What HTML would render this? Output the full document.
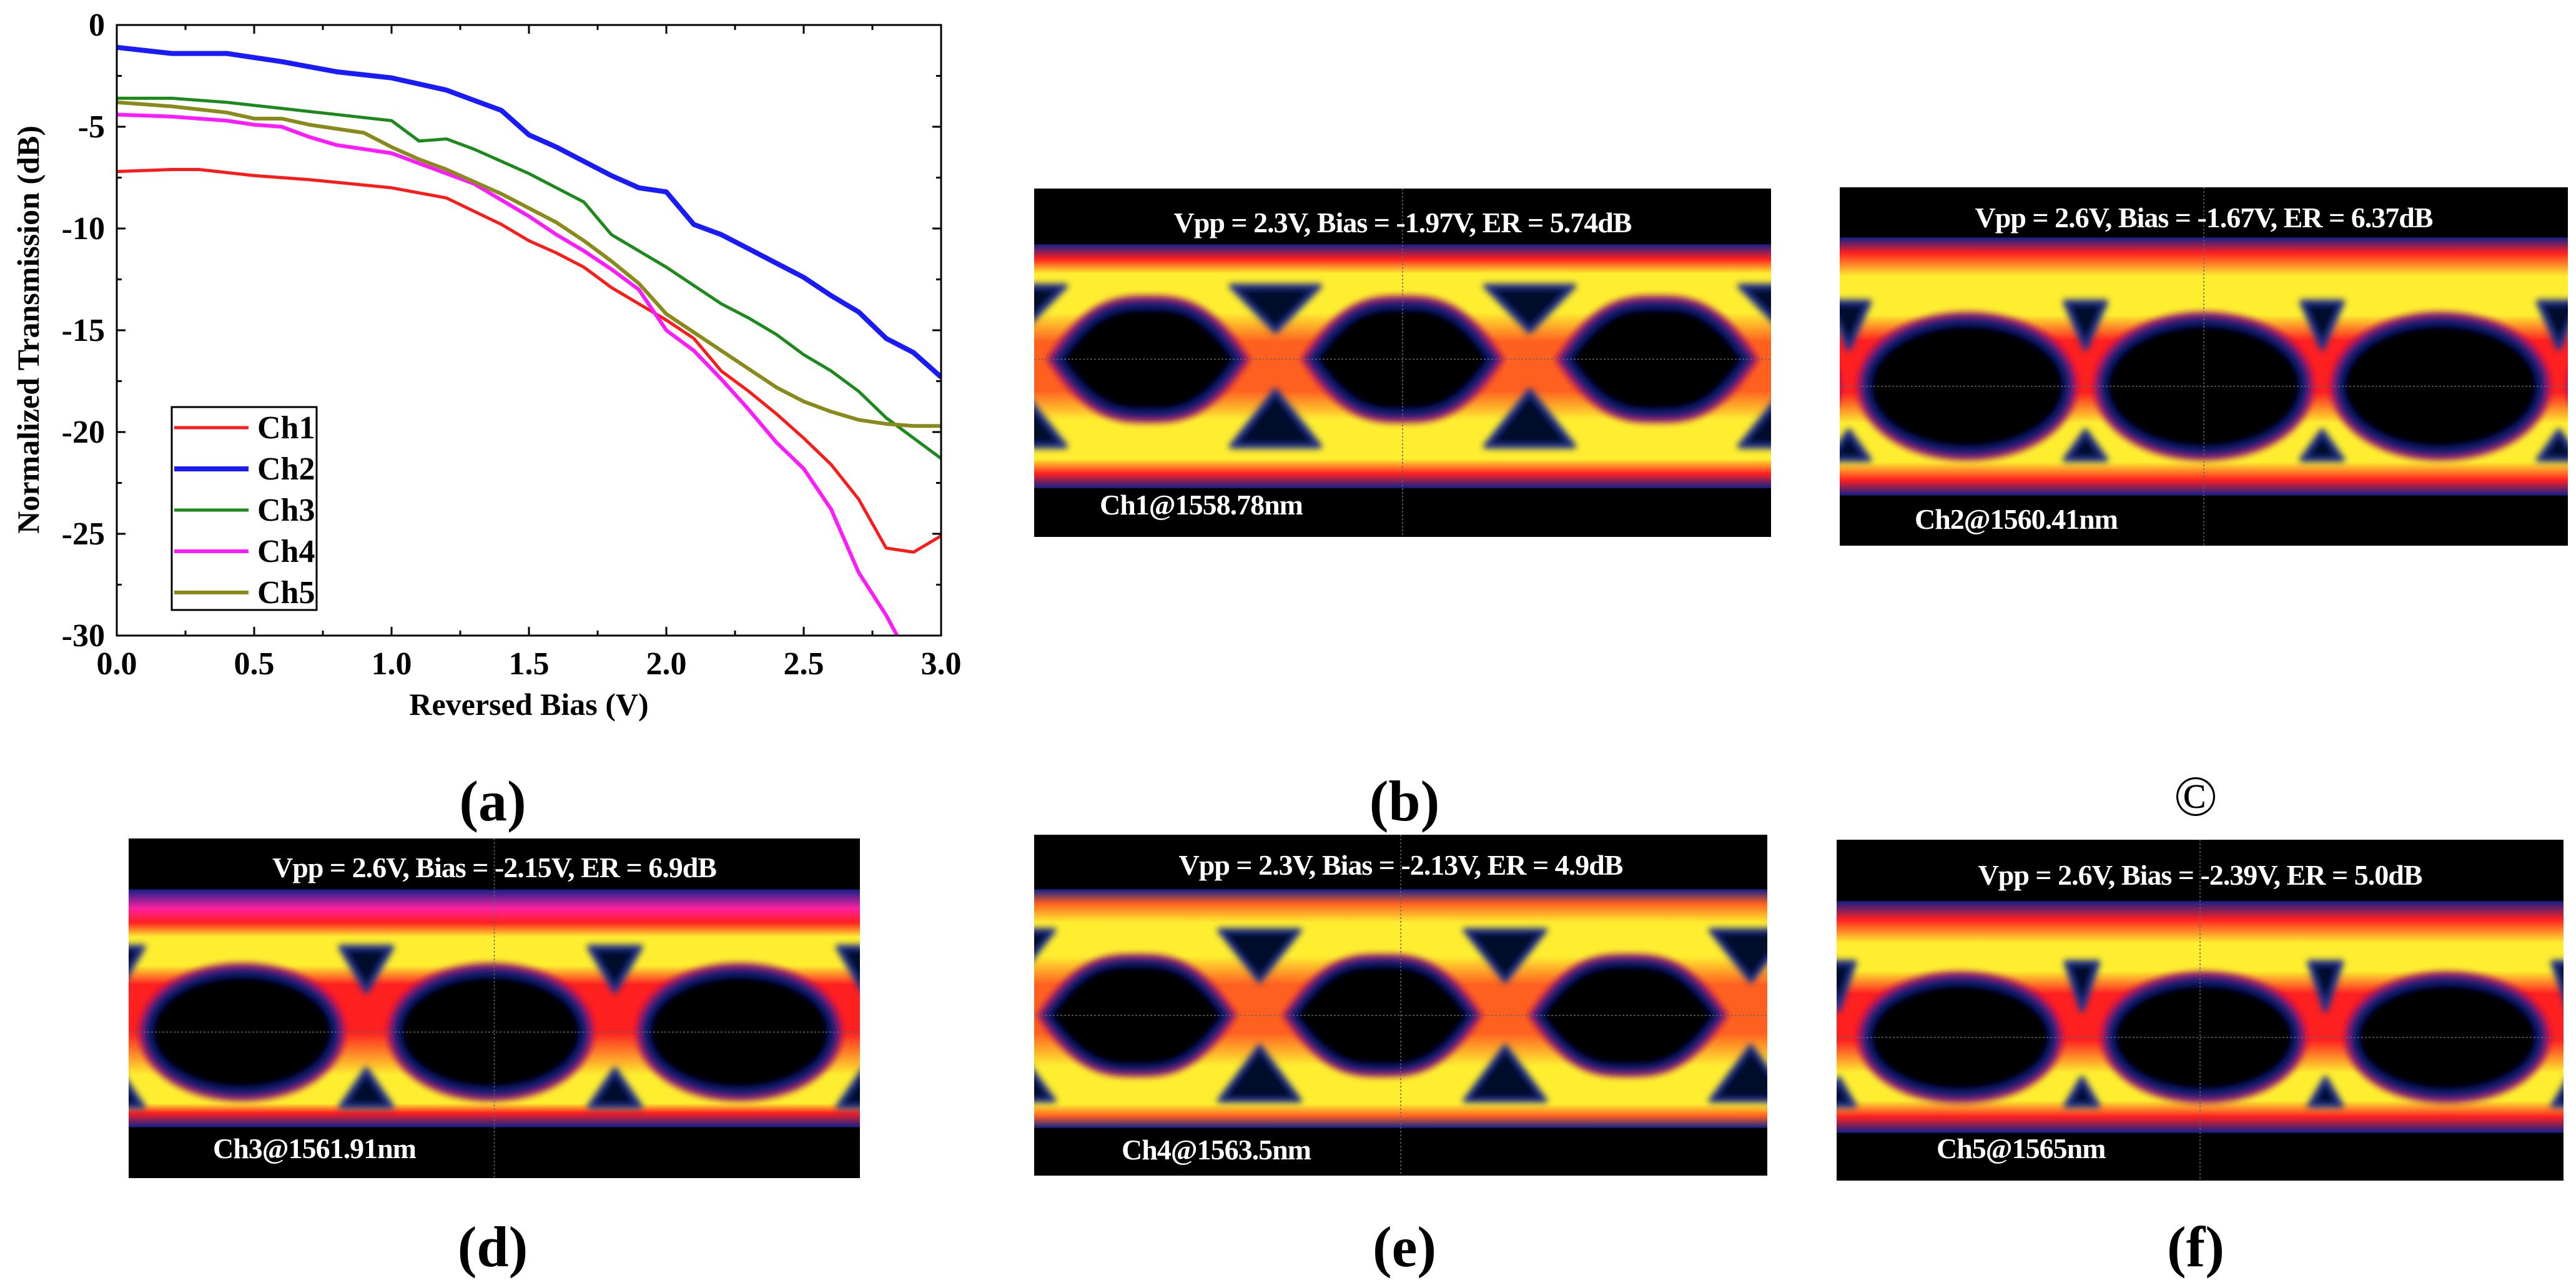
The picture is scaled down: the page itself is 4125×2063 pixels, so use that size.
<!DOCTYPE html>
<html><head><meta charset="utf-8"><style>
body{margin:0;background:#fff;width:4125px;height:2063px;overflow:hidden;position:relative;font-family:"Liberation Serif",serif}
.lbl{position:absolute;font-weight:bold;font-size:92px;transform:translate(-50%,-50%);color:#000;font-family:"Liberation Serif",serif}
.panel{position:absolute;background:#000;overflow:hidden}
.panel svg{position:absolute;left:0;top:0}
.ttl{position:absolute;left:0;right:0;text-align:center;color:#fff;font-weight:bold;font-size:46px;white-space:nowrap;font-family:"Liberation Serif",serif;letter-spacing:-1px}
.sub{position:absolute;color:#fff;font-weight:bold;font-size:46px;white-space:nowrap;font-family:"Liberation Serif",serif;letter-spacing:-1px}
</style></head><body>
<svg id="chart" width="1600" height="1200" style="position:absolute;left:0;top:0;font-family:'Liberation Serif',serif" font-weight="bold"></svg>

<div class="lbl" style="left:789px;top:1283px">(a)</div>
<div class="lbl" style="left:2249px;top:1283px">(b)</div>
<div class="lbl" style="left:3516px;top:1275px;font-weight:normal">©</div>
<div class="lbl" style="left:789px;top:1997px">(d)</div>
<div class="lbl" style="left:2249px;top:1997px">(e)</div>
<div class="lbl" style="left:3516px;top:1997px">(f)</div>

<div class="panel" id="pb" style="left:1656px;top:302px;width:1180px;height:558px">
<div class="ttl" style="top:28px">Vpp = 2.3V, Bias = -1.97V, ER = 5.74dB</div>
<div class="sub" style="left:105px;top:480px">Ch1@1558.78nm</div></div>
<div class="panel" id="pc" style="left:2946px;top:300px;width:1166px;height:574px">
<div class="ttl" style="top:22px">Vpp = 2.6V, Bias = -1.67V, ER = 6.37dB</div>
<div class="sub" style="left:120px;top:505px">Ch2@1560.41nm</div></div>
<div class="panel" id="pd" style="left:206px;top:1343px;width:1171px;height:544px">
<div class="ttl" style="top:20px">Vpp = 2.6V, Bias = -2.15V, ER = 6.9dB</div>
<div class="sub" style="left:135px;top:470px">Ch3@1561.91nm</div></div>
<div class="panel" id="pe" style="left:1656px;top:1337px;width:1174px;height:546px">
<div class="ttl" style="top:22px">Vpp = 2.3V, Bias = -2.13V, ER = 4.9dB</div>
<div class="sub" style="left:140px;top:478px">Ch4@1563.5nm</div></div>
<div class="panel" id="pf" style="left:2941px;top:1345px;width:1164px;height:546px">
<div class="ttl" style="top:30px">Vpp = 2.6V, Bias = -2.39V, ER = 5.0dB</div>
<div class="sub" style="left:160px;top:468px">Ch5@1565nm</div></div>

<script>
const NS="http://www.w3.org/2000/svg";
const xs1=[0,0.2,0.3,0.5,0.7,1.0,1.2,1.4,1.5,1.6,1.7,1.8,1.9,2.0,2.1,2.2,2.3,2.4,2.5,2.6,2.7,2.8,2.9,3.0];
const ch1=[-7.2,-7.1,-7.1,-7.4,-7.6,-8.0,-8.5,-9.8,-10.6,-11.2,-11.9,-12.9,-13.7,-14.5,-15.4,-17.0,-18.0,-19.1,-20.3,-21.6,-23.3,-25.7,-25.9,-25.1];
const xs2=[0,0.2,0.4,0.6,0.8,1.0,1.2,1.4,1.5,1.6,1.7,1.8,1.9,2.0,2.1,2.2,2.3,2.4,2.5,2.6,2.7,2.8,2.9,3.0];
const ch2=[-1.1,-1.4,-1.4,-1.8,-2.3,-2.6,-3.2,-4.2,-5.4,-6.0,-6.7,-7.4,-8.0,-8.2,-9.8,-10.3,-11.0,-11.7,-12.4,-13.3,-14.1,-15.4,-16.1,-17.3];
const xs3=[0,0.2,0.4,0.6,0.8,1.0,1.1,1.2,1.3,1.4,1.5,1.6,1.7,1.8,1.9,2.0,2.1,2.2,2.3,2.4,2.5,2.6,2.7,2.8,2.9,3.0];
const ch3=[-3.6,-3.6,-3.8,-4.1,-4.4,-4.7,-5.7,-5.6,-6.1,-6.7,-7.3,-8.0,-8.7,-10.3,-11.1,-11.9,-12.8,-13.7,-14.4,-15.2,-16.2,-17.0,-18.0,-19.3,-20.3,-21.3];
const xs4=[0,0.2,0.4,0.5,0.6,0.7,0.8,1.0,1.1,1.2,1.3,1.4,1.5,1.6,1.7,1.8,1.9,2.0,2.1,2.2,2.3,2.4,2.5,2.6,2.7,2.8,2.84];
const ch4=[-4.4,-4.5,-4.7,-4.9,-5.0,-5.5,-5.9,-6.3,-6.8,-7.3,-7.8,-8.6,-9.4,-10.3,-11.1,-12.0,-13.0,-15.0,-16.0,-17.4,-18.9,-20.5,-21.8,-23.8,-26.9,-29.0,-30];
const xs5=[0,0.2,0.4,0.5,0.6,0.7,0.9,1.0,1.1,1.2,1.3,1.4,1.5,1.6,1.7,1.8,1.9,2.0,2.1,2.2,2.3,2.4,2.5,2.6,2.7,2.8,2.9,3.0];
const ch5=[-3.8,-4.0,-4.3,-4.6,-4.6,-4.9,-5.3,-6.0,-6.6,-7.1,-7.7,-8.3,-9.0,-9.7,-10.6,-11.6,-12.7,-14.2,-15.1,-16.0,-16.9,-17.8,-18.5,-19.0,-19.4,-19.6,-19.7,-19.7];
const xTicks=[0,0.5,1.0,1.5,2.0,2.5,3.0];
const yTicks=[0,-5,-10,-15,-20,-25,-30];
const seriesNames=["Ch1","Ch2","Ch3","Ch4","Ch5"];
const seriesColors=["#ff1a1a","#1a1aff","#1a8a1a","#ff1aff","#8a8a1a"];
const seriesW=[5,8,5,6,6];
const X0=187,X1=1507,Y0=40,Y1=1018;
const sx=v=>X0+(v/3)*(X1-X0), sy=v=>Y0+(-v/30)*(Y1-Y0);
const svg=document.getElementById('chart');
function mk(t,a,p){const e=document.createElementNS(NS,t);for(const k in a)e.setAttribute(k,a[k]);(p||svg).appendChild(e);return e;}
const allX=[xs1,xs2,xs3,xs4,xs5], allY=[ch1,ch2,ch3,ch4,ch5];
const clip=mk('clipPath',{id:'pc0'});mk('rect',{x:X0,y:Y0,width:X1-X0,height:Y1-Y0},clip);
allX.forEach((xs,i)=>{
  const p=mk('polyline',{points:xs.map((x,j)=>sx(x)+','+sy(allY[i][j])).join(' '),fill:'none',stroke:seriesColors[i],'stroke-width':seriesW[i],'clip-path':'url(#pc0)','stroke-linejoin':'round'});
  
  
});
const fr=mk('rect',{x:X0,y:Y0,width:X1-X0,height:Y1-Y0,fill:'none',stroke:'#000','stroke-width':3});

for(let v=0;v<=3.0001;v+=0.25){const major=Math.abs(v*2-Math.round(v*2))<1e-6;const L=major?14:8;
  mk('line',{x1:sx(v),x2:sx(v),y1:Y1,y2:Y1-L,stroke:'#000','stroke-width':3});
  mk('line',{x1:sx(v),x2:sx(v),y1:Y0,y2:Y0+L,stroke:'#000','stroke-width':3});}
for(let v=0;v>=-30;v-=2.5){const major=Math.abs(v/5-Math.round(v/5))<1e-6;const L=major?14:8;
  mk('line',{x1:X0,x2:X0+L,y1:sy(v),y2:sy(v),stroke:'#000','stroke-width':3});
  mk('line',{x1:X1,x2:X1-L,y1:sy(v),y2:sy(v),stroke:'#000','stroke-width':3});}
xTicks.forEach(v=>{const t=mk('text',{x:sx(v),y:1080,'text-anchor':'middle','font-size':52});t.textContent=v.toFixed(1);
  });
yTicks.forEach(v=>{const t=mk('text',{x:168,y:sy(v)+17,'text-anchor':'end','font-size':52});t.textContent=String(v);
  });
let t=mk('text',{x:847,y:1145,'text-anchor':'middle','font-size':50});t.textContent='Reversed Bias (V)';

t=mk('text',{x:0,y:0,'text-anchor':'middle','font-size':50,transform:'translate(62,528) rotate(-90)'});t.textContent='Normalized Transmission (dB)';

const lg=mk('g',{});
mk('rect',{x:275,y:652,width:232,height:325,fill:'#fff',stroke:'#000','stroke-width':3},lg);
seriesNames.forEach((n,i)=>{const y=685+i*66;
  mk('line',{x1:279,x2:398,y1:y,y2:y,stroke:seriesColors[i],'stroke-width':seriesW[i]},lg);
  const tt=mk('text',{x:412,y:y+17,'font-size':52},lg);tt.textContent=n;
  });

function eye(id,o){
  const p=document.getElementById(id);const W=p.clientWidth,H=p.clientHeight;
  const s=document.createElementNS(NS,'svg');s.setAttribute('width',W);s.setAttribute('height',H);
  p.insertBefore(s,p.firstChild);
  const m=(t,a,par)=>mk(t,a,par||s);
  const gid=id+'g';
  const d=m('defs',{});
  const lg1=mk('linearGradient',{id:gid,x1:0,y1:0,x2:0,y2:1},d);
  o.stops.forEach(st=>mk('stop',{offset:st[0],'stop-color':st[1]},lg1));
  const fb=mk('filter',{id:id+'bl',x:'-10%',y:'-10%',width:'120%',height:'120%'},d);mk('feGaussianBlur',{stdDeviation:5},fb);
  m('rect',{x:0,y:H*o.top,width:W,height:H*(o.bot-o.top),fill:'url(#'+gid+')'});
  const g=m('g',{filter:'url(#'+id+'bl)'});
  const yt=H*o.eT,yb=H*o.eB,ym=(yt+yb)/2;
  for(let k=-1;k<4;k++){
    const cx=W*(o.off+k*o.per),hw=W*o.hw;
    let dpath;
    if(o.lens) dpath=`M${cx-hw},${ym} C${cx-hw*0.6},${yt} ${cx-hw*0.3},${yt} ${cx},${yt} C${cx+hw*0.3},${yt} ${cx+hw*0.6},${yt} ${cx+hw},${ym} C${cx+hw*0.6},${yb} ${cx+hw*0.3},${yb} ${cx},${yb} C${cx-hw*0.3},${yb} ${cx-hw*0.6},${yb} ${cx-hw},${ym}Z`;
    else dpath=`M${cx-hw},${ym} A${hw},${(yb-yt)/2} 0 1 1 ${cx+hw},${ym} A${hw},${(yb-yt)/2} 0 1 1 ${cx-hw},${ym}Z`;
    m('path',{d:dpath,fill:'none',stroke:'#a01060','stroke-width':o.bw*1.6},g);
    m('path',{d:dpath,fill:'#000',stroke:'#1a2a9a','stroke-width':o.bw*0.8},g);
    m('path',{d:dpath,fill:'none',stroke:'#000830','stroke-width':o.bw*0.3},g);
    const xx=cx+W*o.per/2, tw=W*o.tw;
    const ta=`M${xx-tw},${H*o.tT} L${xx+tw},${H*o.tT} L${xx},${H*o.tT2}Z`;
    const tb=`M${xx-tw},${H*o.bT} L${xx+tw},${H*o.bT} L${xx},${H*o.bT2}Z`;
    m('path',{d:ta,fill:'#00082a',stroke:'#203090','stroke-width':o.bw*0.5,'stroke-linejoin':'round'},g);
    m('path',{d:tb,fill:'#00082a',stroke:'#203090','stroke-width':o.bw*0.5,'stroke-linejoin':'round'},g);
  }
  m('line',{x1:W/2,x2:W/2,y1:0,y2:H,stroke:'#666','stroke-width':1.5,'stroke-dasharray':'3 3'});
  m('line',{x1:0,x2:W,y1:ym,y2:ym,stroke:'#666','stroke-width':1.5,'stroke-dasharray':'3 3'});
}
const yl='#ffee30',rd='#ff2020',or='#ff6020',bl='#10208a';
eye('pb',{top:0.16,bot:0.86,stops:[[0,bl],[0.06,rd],[0.12,yl],[0.28,yl],[0.4,or],[0.5,or],[0.6,or],[0.72,yl],[0.88,yl],[0.94,rd],[1,bl]],
  eT:0.33,eB:0.65,lens:true,per:0.345,off:0.155,hw:0.125,bw:16,tw:0.06,tT:0.28,tT2:0.41,bT:0.74,bT2:0.58});
eye('pc',{top:0.14,bot:0.86,stops:[[0,bl],[0.06,rd],[0.15,yl],[0.3,yl],[0.4,rd],[0.6,rd],[0.72,yl],[0.87,yl],[0.94,rd],[1,bl]],
  eT:0.37,eB:0.74,lens:false,per:0.325,off:0.175,hw:0.14,bw:16,tw:0.028,tT:0.32,tT2:0.45,bT:0.76,bT2:0.68});
eye('pd',{top:0.15,bot:0.85,stops:[[0,bl],[0.08,'#ff20a0'],[0.14,rd],[0.2,yl],[0.32,yl],[0.4,rd],[0.6,rd],[0.78,yl],[0.9,yl],[0.94,rd],[1,bl]],
  eT:0.39,eB:0.75,lens:false,per:0.34,off:0.155,hw:0.13,bw:16,tw:0.035,tT:0.32,tT2:0.45,bT:0.79,bT2:0.68});
eye('pe',{top:0.16,bot:0.86,stops:[[0,bl],[0.06,or],[0.14,yl],[0.28,yl],[0.4,or],[0.6,or],[0.74,yl],[0.9,yl],[0.95,or],[1,bl]],
  eT:0.37,eB:0.69,lens:true,per:0.335,off:0.14,hw:0.125,bw:14,tw:0.055,tT:0.28,tT2:0.43,bT:0.78,bT2:0.62});
eye('pf',{top:0.18,bot:0.86,stops:[[0,bl],[0.08,rd],[0.18,yl],[0.3,yl],[0.4,rd],[0.6,rd],[0.74,yl],[0.86,yl],[0.93,rd],[1,bl]],
  eT:0.41,eB:0.75,lens:false,per:0.335,off:0.17,hw:0.13,bw:16,tw:0.022,tT:0.36,tT2:0.5,bT:0.78,bT2:0.7});
</script>
</body></html>
